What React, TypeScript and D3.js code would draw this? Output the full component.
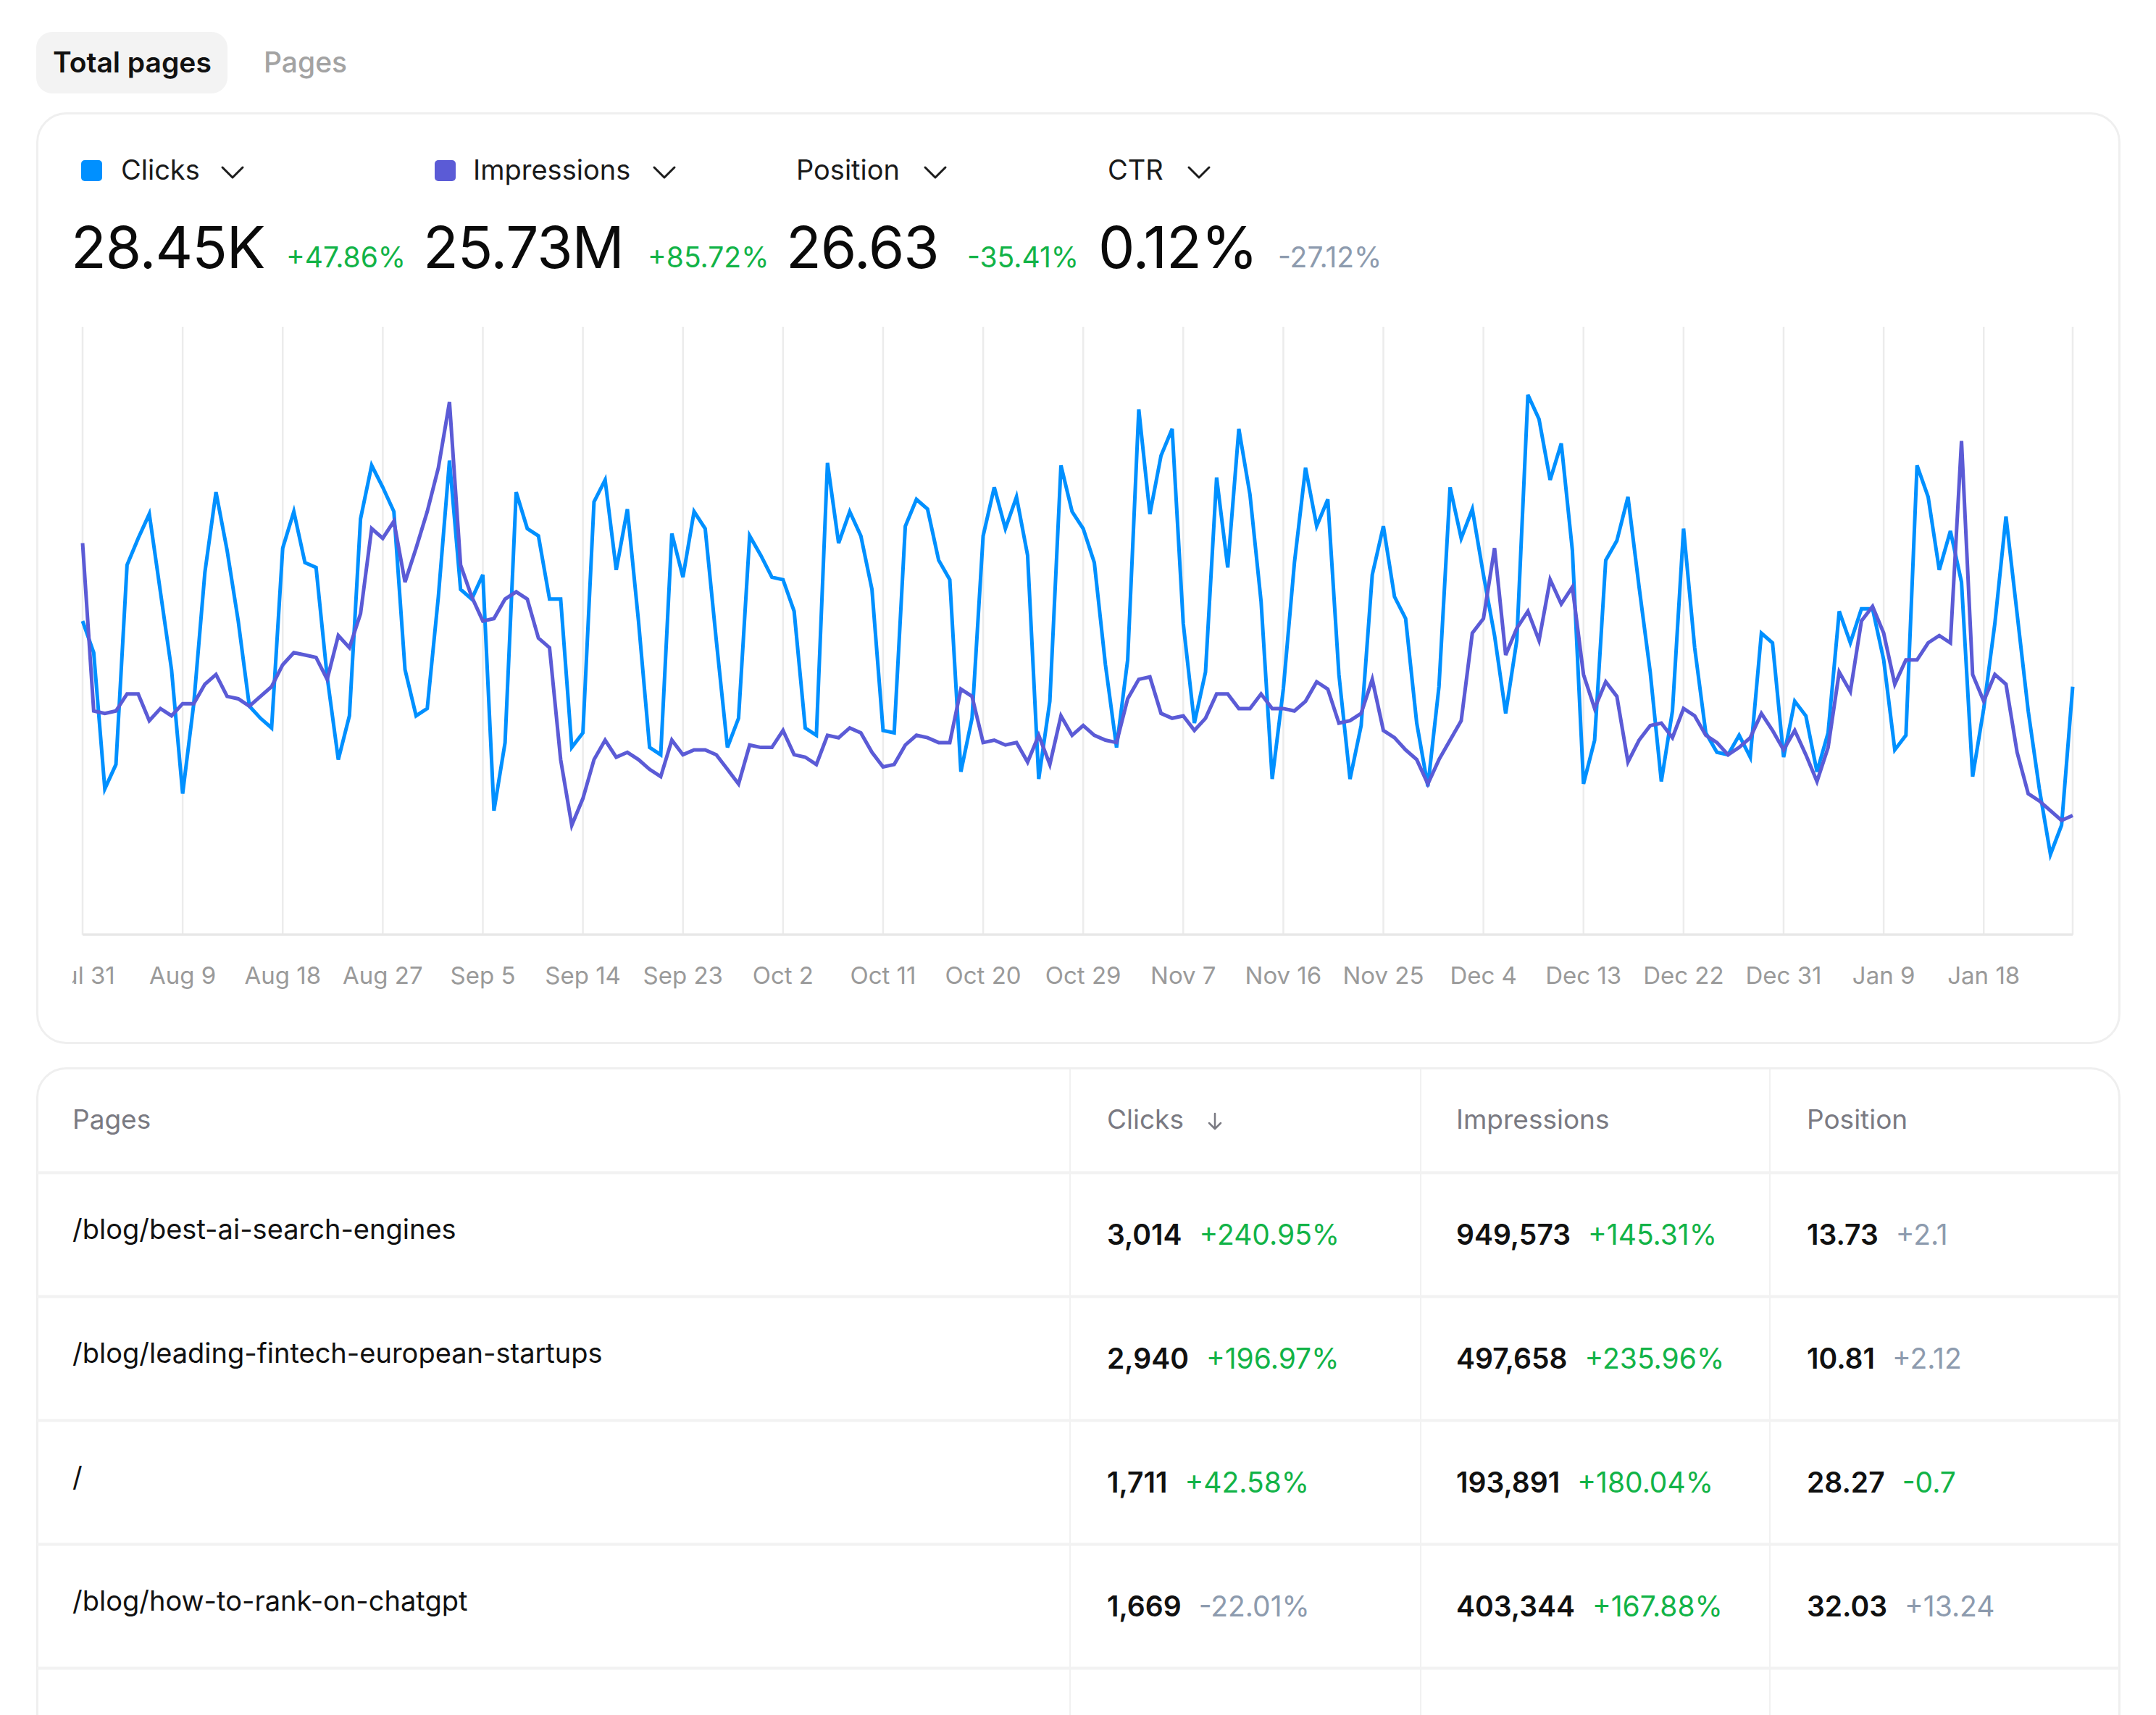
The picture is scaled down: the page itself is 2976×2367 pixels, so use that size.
import React from "react";
import * as d3 from "d3";

const W = 2976;
const H = 2367;
const FONT = "Inter, 'Noto Sans', sans-serif";

// ---- chart data (daily, Jul 31 → Jan 26) ----
const tickLabels = ["Jul 31", "Aug 9", "Aug 18", "Aug 27", "Sep 5", "Sep 14", "Sep 23", "Oct 2", "Oct 11", "Oct 20", "Oct 29", "Nov 7", "Nov 16", "Nov 25", "Dec 4", "Dec 13", "Dec 22", "Dec 31", "Jan 9", "Jan 18"];
const TICK_EVERY = 9;

const clicks = [
  129, 116, 60, 70, 152, 163, 173, 141, 109, 58,
  95, 149, 182, 158, 129, 94, 89, 85, 159, 174,
  153, 151, 106, 72, 90, 171, 193, 184, 174, 109,
  90, 93, 139, 195, 142, 138, 148, 51, 79, 182,
  167, 164, 138, 138, 77, 83, 178, 187, 150, 175,
  129, 77, 74, 165, 147, 174, 167, 121, 77, 89,
  164, 156, 147, 146, 133, 85, 82, 194, 161, 174,
  164, 142, 84, 83, 168, 179, 175, 154, 146, 67,
  89, 164, 184, 167, 180, 156, 64, 96, 193, 174,
  167, 153, 111, 77, 113, 216, 173, 197, 208, 128,
  87, 108, 188, 151, 208, 181, 137, 64, 101, 153,
  192, 168, 179, 107, 64, 86, 148, 168, 139, 130,
  87, 61, 102, 184, 163, 175, 148, 123, 91, 121,
  222, 212, 187, 202, 158, 62, 80, 154, 162, 180,
  143, 108, 63, 92, 167, 118, 83, 75, 74, 82,
  73, 124, 120, 73, 96, 90, 67, 83, 133, 120,
  134, 134, 113, 76, 82, 193, 180, 150, 166, 145,
  65, 93, 128, 172, 132, 92, 60, 33, 45, 102,
];

const impressionsK = [
  161, 92, 91, 92, 99, 99, 88, 93, 90, 95,
  95, 103, 107, 98, 97, 94, 98, 102, 111, 116,
  115, 114, 105, 123, 118, 132, 167, 163, 170, 145,
  159, 174, 192, 219, 152, 139, 129, 130, 138, 141,
  138, 122, 118, 72, 45, 56, 72, 80, 73, 75,
  72, 68, 65, 80, 74, 76, 76, 74, 68, 62,
  78, 77, 77, 84, 74, 73, 70, 82, 81, 85,
  83, 75, 69, 70, 78, 82, 81, 79, 79, 101,
  98, 79, 80, 78, 79, 71, 82, 70, 90, 82,
  86, 82, 80, 79, 97, 105, 106, 91, 89, 90,
  84, 89, 99, 99, 93, 93, 99, 93, 93, 92,
  96, 104, 101, 87, 88, 91, 105, 84, 81, 76,
  72, 62, 72, 80, 88, 124, 130, 159, 115, 126,
  133, 121, 146, 136, 143, 107, 93, 104, 98, 71,
  80, 86, 87, 81, 93, 90, 82, 79, 74, 77,
  81, 91, 84, 76, 84, 74, 63, 77, 108, 100,
  129, 135, 124, 103, 113, 113, 120, 123, 120, 203,
  107, 96, 107, 103, 75, 58, 55, 51, 47, 49,
];

// ---- summary metrics ----
const metricLabels = ["Clicks", "Impressions", "Position", "CTR"];
const metricSwatches = ["#0090FF", "#5B5BD6", null, null];
const metricValues = ["28.45K", "25.73M", "26.63", "0.12%"];
const metricDeltas = ["+47.86%", "+85.72%", "-35.41%", "-27.12%"];
const metricTones = ["good", "good", "good", "neutral"];

// ---- table ----
const tableHeaders = ["Pages", "Clicks", "Impressions", "Position"];
const pages = ["/blog/best-ai-search-engines", "/blog/leading-fintech-european-startups", "/", "/blog/how-to-rank-on-chatgpt"];
const pageClicks = ["3,014", "2,940", "1,711", "1,669"];
const pageClicksDelta = ["+240.95%", "+196.97%", "+42.58%", "-22.01%"];
const pageClicksTone = ["good", "good", "good", "neutral"];
const pageImpr = ["949,573", "497,658", "193,891", "403,344"];
const pageImprDelta = ["+145.31%", "+235.96%", "+180.04%", "+167.88%"];
const pageImprTone = ["good", "good", "good", "good"];
const pagePos = ["13.73", "10.81", "28.27", "32.03"];
const pagePosDelta = ["+2.1", "+2.12", "-0.7", "+13.24"];
const pagePosTone = ["neutral", "neutral", "good", "neutral"];

const GREEN = "#12B347";
const GRAY = "#8D9BAE";
const toneColor = (t: string) => (t === "good" ? GREEN : GRAY);

let _ctx: CanvasRenderingContext2D | null = null;
function measure(text: string, size: number, weight: number) {
  if (!_ctx) _ctx = document.createElement("canvas").getContext("2d");
  if (!_ctx) return text.length * size * 0.6;
  _ctx.font = `${weight} ${size}px Inter`;
  return _ctx.measureText(text).width;
}

function Chevron({ x, y }: { x: number; y: number }) {
  return <path d={`M${x},${y} L${x + 14},${y + 14} L${x + 28},${y}`} fill="none" stroke="#1c1c1c" strokeWidth={3} strokeLinecap="round" strokeLinejoin="round" />;
}

export default function App() {
  const CH = { left: 114, right: 2861, top: 451, bottom: 1290 };
  const x = d3.scaleLinear().domain([0, clicks.length - 1]).range([CH.left, CH.right]);
  const yC = d3.scaleLinear().domain([0, 250]).range([CH.bottom, CH.top]);
  const yI = d3.scaleLinear().domain([0, 250]).range([CH.bottom, CH.top]);
  const lineC = d3.line<number>().x((_, i) => x(i)).y((d) => yC(d));
  const lineI = d3.line<number>().x((_, i) => x(i)).y((d) => yI(d));

  const gridIdx = tickLabels.map((_, i) => i * TICK_EVERY).concat([clicks.length - 1]);

  const legendSq = [112, 600, 0, 0];
  const legendText = [167, 653, 1099, 1529];
  const legendChev = [307, 903, 1277, 1641];
  const valueX = [98, 584, 1085, 1516];
  const deltaX = [395, 894, 1335, 1764];

  const rowTop = (k: number) => 1618 + 171 * k;
  const colX = [100, 1528, 2010, 2494];
  const NUM = 39;

  return (
    <svg width={W} height={H} style={{ position: "absolute", left: 0, top: 0, background: "#fff" }} fontFamily={FONT}>
      <defs>
        <clipPath id="chartClip">
          <rect x={100} y={400} width={2800} height={1000} />
        </clipPath>
      </defs>
      <rect x={0} y={0} width={W} height={H} fill="#fff" />

      {/* tabs */}
      <rect x={50} y={44} width={264} height={85} rx={22} fill="#F3F3F3" />
      <text x={73} y={100} fontSize={39} fontWeight={600} fill="#111">Total pages</text>
      <text x={364} y={100} fontSize={39} fontWeight={500} fill="#A3A3A3">Pages</text>

      {/* chart card */}
      <rect x={51.5} y={156.5} width={2874} height={1283} rx={40} fill="#fff" stroke="#EFEFEF" strokeWidth={3} />

      {metricLabels.map((lab, i) => (
        <g key={lab}>
          {metricSwatches[i] && <rect x={legendSq[i]} y={221} width={29} height={29} rx={5} fill={metricSwatches[i] as string} />}
          <text x={legendText[i]} y={248} fontSize={38} fill="#1a1a1a">{lab}</text>
          <Chevron x={legendChev[i]} y={231} />
          <text x={valueX[i]} y={370} fontSize={80} fill="#0a0a0a" letterSpacing={-1}>{metricValues[i]}</text>
          <text x={deltaX[i]} y={369} fontSize={39} fill={toneColor(metricTones[i])}>{metricDeltas[i]}</text>
        </g>
      ))}

      <g clipPath="url(#chartClip)">
        {gridIdx.map((d) => (
          <line key={"g" + d} x1={x(d)} x2={x(d)} y1={CH.top} y2={CH.bottom} stroke="#ECECEC" strokeWidth={2.5} />
        ))}
        <line x1={CH.left} x2={CH.right} y1={CH.bottom} y2={CH.bottom} stroke="#E8E8E8" strokeWidth={3.5} />
        <path d={lineC(clicks) || ""} fill="none" stroke="#0090FF" strokeWidth={5} />
        <path d={lineI(impressionsK) || ""} fill="none" stroke="#5B5BD6" strokeWidth={5} />
        {tickLabels.map((t, i) => (
          <text key={t} x={x(i * TICK_EVERY)} y={1358} fontSize={33} fill="#9A9A9A" textAnchor="middle">{t}</text>
        ))}
      </g>

      {/* table card */}
      <rect x={51.5} y={1474.5} width={2874} height={1200} rx={40} fill="#fff" stroke="#EFEFEF" strokeWidth={3} />
      {[1477, 1961, 2443].map((cx) => (
        <line key={cx} x1={cx} x2={cx} y1={1476} y2={H} stroke="#F1F1F1" strokeWidth={2} />
      ))}
      {[0, 1, 2, 3, 4].map((k) => (
        <rect key={k} x={51} y={rowTop(k) - 1.5} width={2874} height={4} fill="#F2F2F2" />
      ))}

      {tableHeaders.map((h, i) => (
        <text key={h} x={colX[i]} y={1558} fontSize={37} fill="#7A7A82">{h}</text>
      ))}
      <path d="M1677,1537 L1677,1557 M1669,1550 L1677,1558 L1685,1550" fill="none" stroke="#7A7A82" strokeWidth={2.5} strokeLinecap="round" strokeLinejoin="round" />

      {pages.map((p, k) => {
        const t = rowTop(k);
        const cells = [
          [pageClicks[k], pageClicksDelta[k], pageClicksTone[k]],
          [pageImpr[k], pageImprDelta[k], pageImprTone[k]],
          [pagePos[k], pagePosDelta[k], pagePosTone[k]],
        ];
        return (
          <g key={p}>
            <text x={colX[0]} y={t + 92} fontSize={38} fill="#111">{p}</text>
            {cells.map((c, j) => {
              const cx = colX[j + 1];
              const w = measure(c[0], NUM, 600);
              return (
                <g key={j}>
                  <text x={cx} y={t + 100} fontSize={NUM} fontWeight={600} fill="#111">{c[0]}</text>
                  <text x={cx + w + 24} y={t + 100} fontSize={NUM} fill={toneColor(c[2])}>{c[1]}</text>
                </g>
              );
            })}
          </g>
        );
      })}
    </svg>
  );
}
